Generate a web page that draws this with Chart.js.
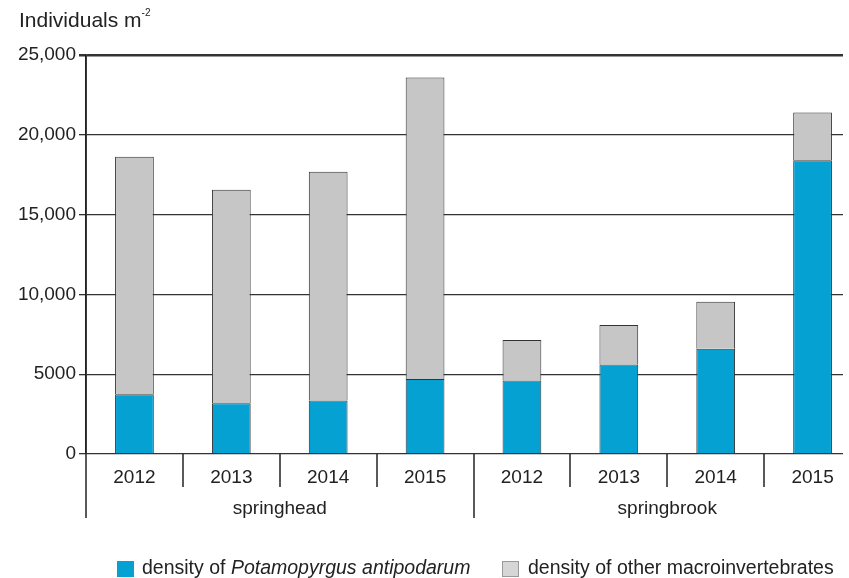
<!DOCTYPE html>
<html>
<head>
<meta charset="utf-8">
<script src="https://cdn.jsdelivr.net/npm/chart.js@4.4.1/dist/chart.umd.min.js"></script>
<style>
  body { margin: 0; background: #fff; font-family: "Liberation Sans", Arial, sans-serif; color: #222; }
  #wrap { position: absolute; left: 0; top: 0; width: 843px; height: 578px; overflow: hidden; }
  #title { position: absolute; left: 19px; top: 8px; font-size: 21px; }
  #title sup { font-size: 10px; vertical-align: top; position: relative; top: -1px; }
  .leg { position: absolute; top: 556px; font-size: 19.5px; white-space: nowrap; }
  .sw { position: absolute; top: 5px; width: 17px; height: 16px; box-sizing: border-box; }
</style>
</head>
<body>
<div id="wrap"><canvas id="chart" width="880" height="578"></canvas></div>
<div id="title">Individuals m<sup>-2</sup></div>
<div class="leg" style="left:142px"><span class="sw" style="left:-25px;background:#05a1d3"></span>density of <i>Potamopyrgus antipodarum</i></div>
<div class="leg" style="left:528px"><span class="sw" style="left:-26px;background:#d6d6d6;border:1px solid #999"></span>density of other macroinvertebrates</div>
<script>
// Данные
const years = ['2012', '2013', '2014', '2015', '2012', '2013', '2014', '2015'];
const sites = ['springhead', 'springbrook'];
const potamopyrgus = [3750, 3180, 3345, 4705, 4600, 5600, 6590, 18400];
const otherMacro = [14880, 13380, 14345, 18885, 2550, 2490, 2945, 2990];
const yTicks = [0, 5000, 10000, 15000, 20000, 25000];

const FONT = { family: '"Liberation Sans", Arial, sans-serif', size: 19 };

// Разделители категорий и подписи групп под осью
const groupLines = {
  id: 'groupLines',
  afterDraw(chart) {
    const { ctx, chartArea, scales: { x } } = chart;
    const n = years.length;
    const step = (chartArea.right - chartArea.left) / n;
    ctx.save();
    ctx.strokeStyle = '#222';
    ctx.lineWidth = 1.5;
    for (let i = 0; i <= n; i++) {
      const px = Math.round(chartArea.left + i * step);
      const long = i % 4 === 0;
      ctx.beginPath();
      ctx.moveTo(px, i === 0 ? chartArea.top : chartArea.bottom);
      ctx.lineTo(px, chartArea.bottom + (long ? 64 : 33));
      ctx.stroke();
    }
    ctx.fillStyle = '#222';
    ctx.font = `${FONT.size}px ${FONT.family}`;
    ctx.textAlign = 'center';
    ctx.textBaseline = 'alphabetic';
    sites.forEach((s, g) => {
      const cx = (x.getPixelForValue(g * 4 + 1) + x.getPixelForValue(g * 4 + 2)) / 2;
      ctx.fillText(s, cx, chartArea.bottom + 60);
    });
    ctx.restore();
  }
};

new Chart(document.getElementById('chart'), {
  type: 'bar',
  data: {
    labels: years,
    datasets: [
      {
        label: 'density of Potamopyrgus antipodarum',
        data: potamopyrgus,
        backgroundColor: '#05a1d3',
        borderColor: '#333',
        borderWidth: 1
      },
      {
        label: 'density of other macroinvertebrates',
        data: otherMacro,
        backgroundColor: '#c6c6c6',
        borderColor: '#333',
        borderWidth: 1
      }
    ]
  },
  options: {
    responsive: false,
    animation: false,
    layout: { padding: { top: 55, right: 19, bottom: 0, left: 0 } },
    datasets: { bar: { barPercentage: 0.4, categoryPercentage: 1 } },
    plugins: { legend: { display: false }, tooltip: { enabled: false } },
    scales: {
      x: {
        stacked: true,
        grid: { display: false },
        border: { display: false },
        ticks: { color: '#222', font: FONT, padding: 4 },
        afterFit: s => { s.height = 124; }
      },
      y: {
        stacked: true,
        min: 0,
        max: 25000,
        afterBuildTicks: s => { s.ticks = yTicks.map(v => ({ value: v })); },
        grid: {
          color: '#333',
          lineWidth: c => (c.tick && c.tick.value === 25000 ? 2.5 : 1.3),
          tickLength: 7
        },
        border: { display: true, color: '#222', width: 1.5 },
        ticks: {
          color: '#222',
          font: FONT,
          padding: 3,
          callback: v => (v >= 10000 ? v.toLocaleString('en-US') : String(v))
        },
        afterFit: s => { s.width = 86; }
      }
    }
  },
  plugins: [groupLines]
});
</script>
</body>
</html>
